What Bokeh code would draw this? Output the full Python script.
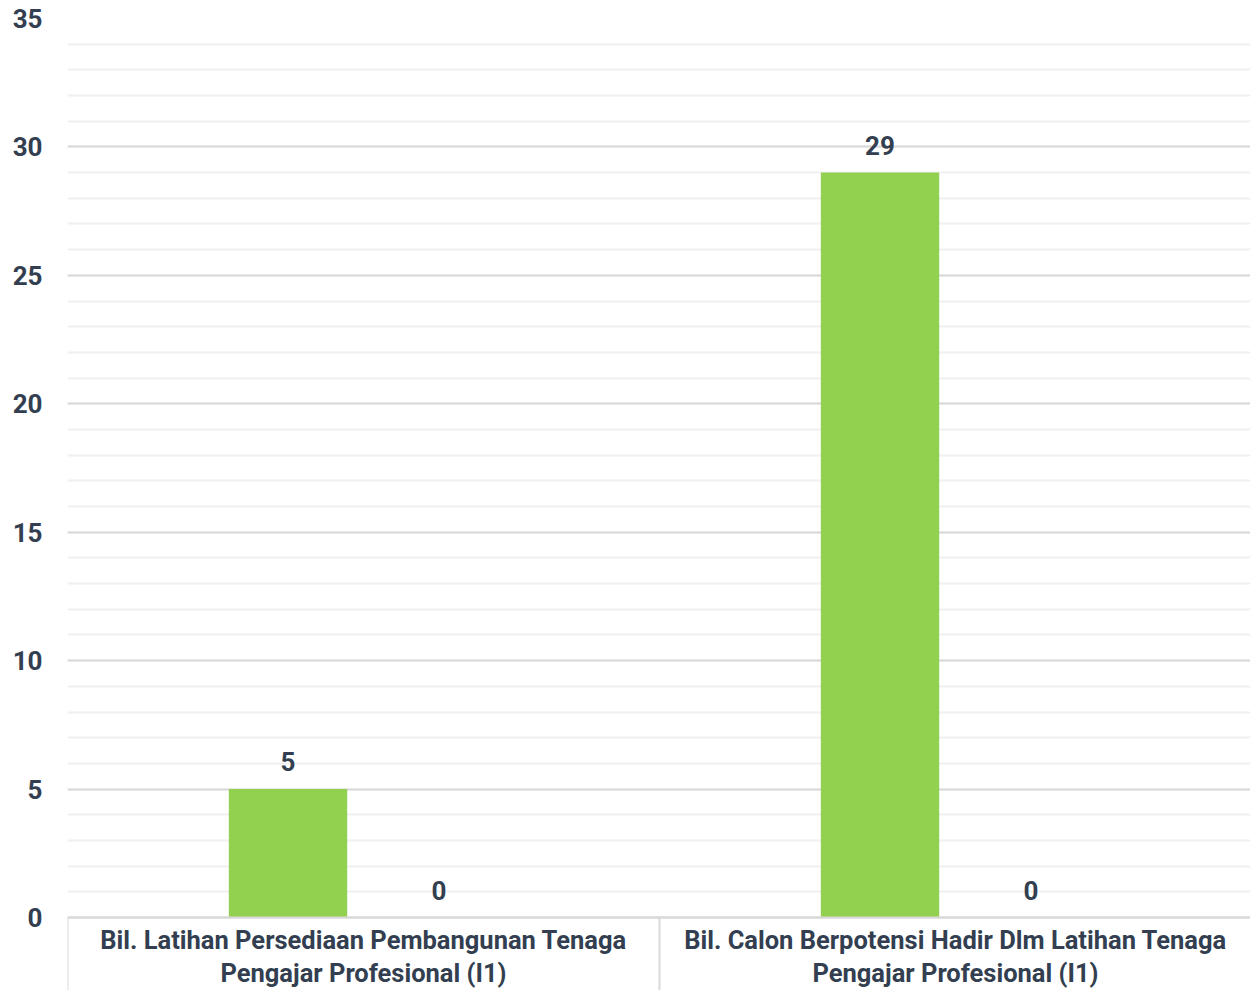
from bokeh.plotting import figure
from bokeh.models import ColumnDataSource, Range1d, FixedTicker, LabelSet
from bokeh.core.properties import value
from bokeh.transform import dodge
from bokeh.embed import file_html
from bokeh.resources import INLINE

categories = [
    "Bil. Latihan Persediaan Pembangunan Tenaga\nPengajar Profesional (I1)",
    "Bil. Calon Berpotensi Hadir Dlm Latihan Tenaga\nPengajar Profesional (I1)",
]
series_a = [5, 29]
series_b = [0, 0]
y_ticks = [0, 5, 10, 15, 20, 25, 30, 35]

FONT = "Roboto"
TXT = "#333f50"
GREEN = "#92d050"

# layout (pixels)
W, H = 1250, 990
TOP, LEFT = 18, 67
FRAME_H = H - TOP                  # frame runs to the bottom of the canvas
PLOT_H = 899                       # pixels between value 0 and value 35
y_lo = -(FRAME_H - PLOT_H) / PLOT_H * 35
x_hi = (W - LEFT) / 592            # 592 px per category

xc = [i + 0.5 for i in range(len(categories))]
src = ColumnDataSource(dict(
    xc=xc, a=series_a, b=series_b,
    a_lab=[str(v) for v in series_a], b_lab=[str(v) for v in series_b],
))

p = figure(width=W, height=H, output_backend="svg", toolbar_location=None,
           x_range=Range1d(0, x_hi), y_range=Range1d(y_lo, 35),
           min_border_left=LEFT, min_border_right=0, min_border_top=TOP, min_border_bottom=0)
p.outline_line_color = None
p.background_fill_color = "white"

p.vbar(x=dodge("xc", -0.1275, range=p.x_range), top="a", width=0.2, bottom=0,
       source=src, fill_color=GREEN, line_color=None)
p.vbar(x=dodge("xc", 0.1275, range=p.x_range), top="b", width=0.2, bottom=0,
       source=src, fill_color="#4472c4", line_color=None)

for col, lab, off in (("a", "a_lab", -0.1275), ("b", "b_lab", 0.1275)):
    ls = LabelSet(x=dodge("xc", off, range=p.x_range), y=col, text=lab, source=src,
                  text_align="center", text_baseline="alphabetic", y_offset=18,
                  text_font=value(FONT), text_font_style="bold", text_font_size="26px",
                  text_color=TXT)
    p.add_layout(ls)

# y axis
p.yaxis.ticker = FixedTicker(ticks=y_ticks, minor_ticks=list(range(0, 36)))
p.yaxis.axis_line_color = None
p.yaxis.major_tick_line_color = None
p.yaxis.minor_tick_line_color = None
p.yaxis.major_tick_out = 0
p.yaxis.minor_tick_out = 0
p.yaxis.major_label_standoff = 25
p.yaxis.major_label_text_font = FONT
p.yaxis.major_label_text_font_style = "bold"
p.yaxis.major_label_text_font_size = "26px"
p.yaxis.major_label_text_color = TXT

p.ygrid.grid_line_color = "#d9d9d9"
p.ygrid.grid_line_width = 2
p.ygrid.minor_grid_line_color = "#f0f0f0"
p.ygrid.minor_grid_line_width = 2
p.xgrid.grid_line_color = None

# x axis at value 0: labels at category centres, separators as minor ticks at boundaries
xa = p.xaxis[0]
xa.fixed_location = 0
xa.ticker = FixedTicker(ticks=xc, minor_ticks=list(range(0, len(categories) + 1)))
xa.major_label_overrides = {x: c for x, c in zip(xc, categories)}
xa.major_tick_line_color = None
xa.major_tick_out = 0
xa.minor_tick_in = 0
xa.minor_tick_out = 75
xa.minor_tick_line_color = "#d9d9d9"
xa.minor_tick_line_width = 2
xa.axis_line_color = "#d9d9d9"
xa.axis_line_width = 2
xa.major_label_standoff = -68
xa.major_label_text_font = FONT
xa.major_label_text_font_style = "bold"
xa.major_label_text_font_size = "25.5px"
xa.major_label_text_color = TXT
xa.major_label_text_line_height = 1.1

open("out.html", "w").write(file_html(p, INLINE))
